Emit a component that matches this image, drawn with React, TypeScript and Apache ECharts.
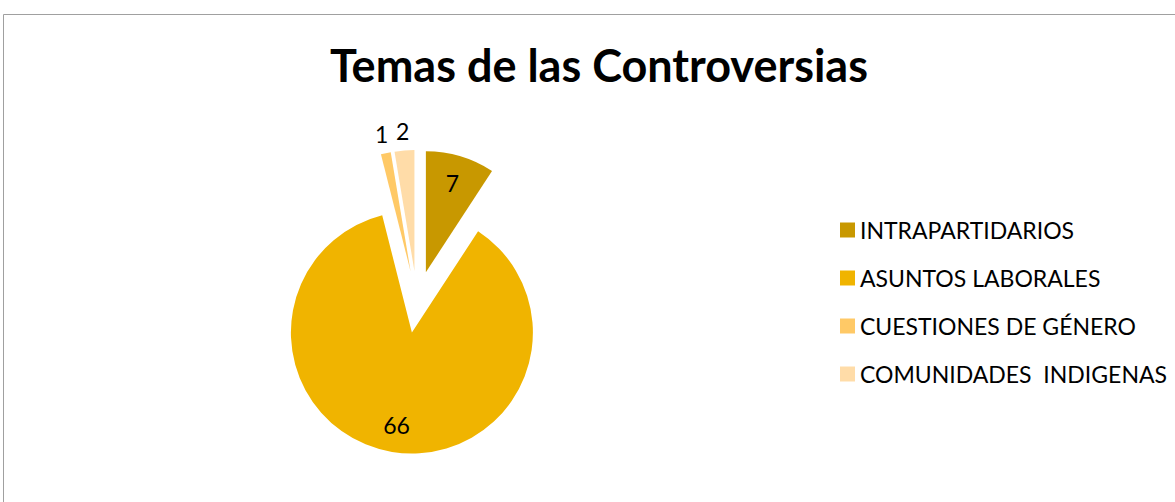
import React, { useEffect, useRef } from "react";
import * as echarts from "echarts";

const categories = ["INTRAPARTIDARIOS", "ASUNTOS LABORALES", "CUESTIONES DE GÉNERO", "COMUNIDADES  INDIGENAS"];
const values = [7, 66, 1, 2];
const colors = ["#C89800", "#F0B400", "#FFC966", "#FFDCA8"];
const insideLabelItems = [true, true, false, false];
const titleText = "Temas de las Controversias";

const CENTER = [417, 302];
const RADIUS = 121;
const OFFSET = 31;
const FONT = "Lato, 'Noto Sans', sans-serif";

export default function App() {
  const ref = useRef<HTMLDivElement>(null);
  useEffect(() => {
    if (!ref.current) return;
    const chart = echarts.init(ref.current, undefined, { renderer: "svg" });
    const baseSeries = {
      type: "pie",
      center: CENTER,
      startAngle: 90,
      clockwise: true,
      selectedMode: "multiple",
      selectedOffset: OFFSET,
      avoidLabelOverlap: false,
      emphasis: { disabled: true },
      select: { itemStyle: { borderWidth: 0 } },
      labelLine: { show: false },
    };
    const mainData = categories.map((name, i) => ({
      name,
      value: values[i],
      selected: true,
      itemStyle: { color: colors[i] },
    }));
    const labelData = (inside: boolean) =>
      categories.map((name, i) => ({
        name,
        value: values[i],
        selected: true,
        itemStyle: { color: "rgba(0,0,0,0)" },
        label: {
          show: insideLabelItems[i] === inside,
          position: "inside",
          formatter: "{c}",
          color: "#000",
          fontFamily: FONT,
          fontSize: 23,
        },
      }));
    chart.setOption({
      animation: false,
      color: colors,
      graphic: [
        {
          type: "rect",
          shape: { x: 3.5, y: 14.5, width: 1300, height: 700 },
          style: { fill: "none", stroke: "#a0a0a0", lineWidth: 1 },
          silent: true,
        },
        {
          type: "text",
          x: 599,
          y: 65,
          style: {
            text: titleText,
            align: "center",
            verticalAlign: "middle",
            font: `bold 45px ${FONT}`,
            fill: "#000",
          },
        },
      ],
      legend: {
        orient: "vertical",
        left: 840,
        top: 218,
        padding: 0,
        itemWidth: 15,
        itemHeight: 15,
        itemGap: 24,
        icon: "rect",
        selectedMode: false,
        data: categories,
        textStyle: { fontFamily: FONT, fontSize: 23, color: "#000", lineHeight: 24 },
      },
      series: [
        {
          ...baseSeries,
          name: "main",
          radius: [0, RADIUS],
          label: { show: false },
          data: mainData,
        },
        {
          ...baseSeries,
          name: "labelsInside",
          radius: [60, RADIUS],
          silent: true,
          data: labelData(true),
        },
        {
          ...baseSeries,
          name: "labelsOutside",
          radius: [128, 148],
          silent: true,
          data: labelData(false),
        },
      ],
    });
    return () => chart.dispose();
  }, []);
  return (
    <div
      ref={ref}
      style={{ position: "fixed", left: 0, top: 0, width: 1175, height: 502, background: "#fff" }}
    />
  );
}
